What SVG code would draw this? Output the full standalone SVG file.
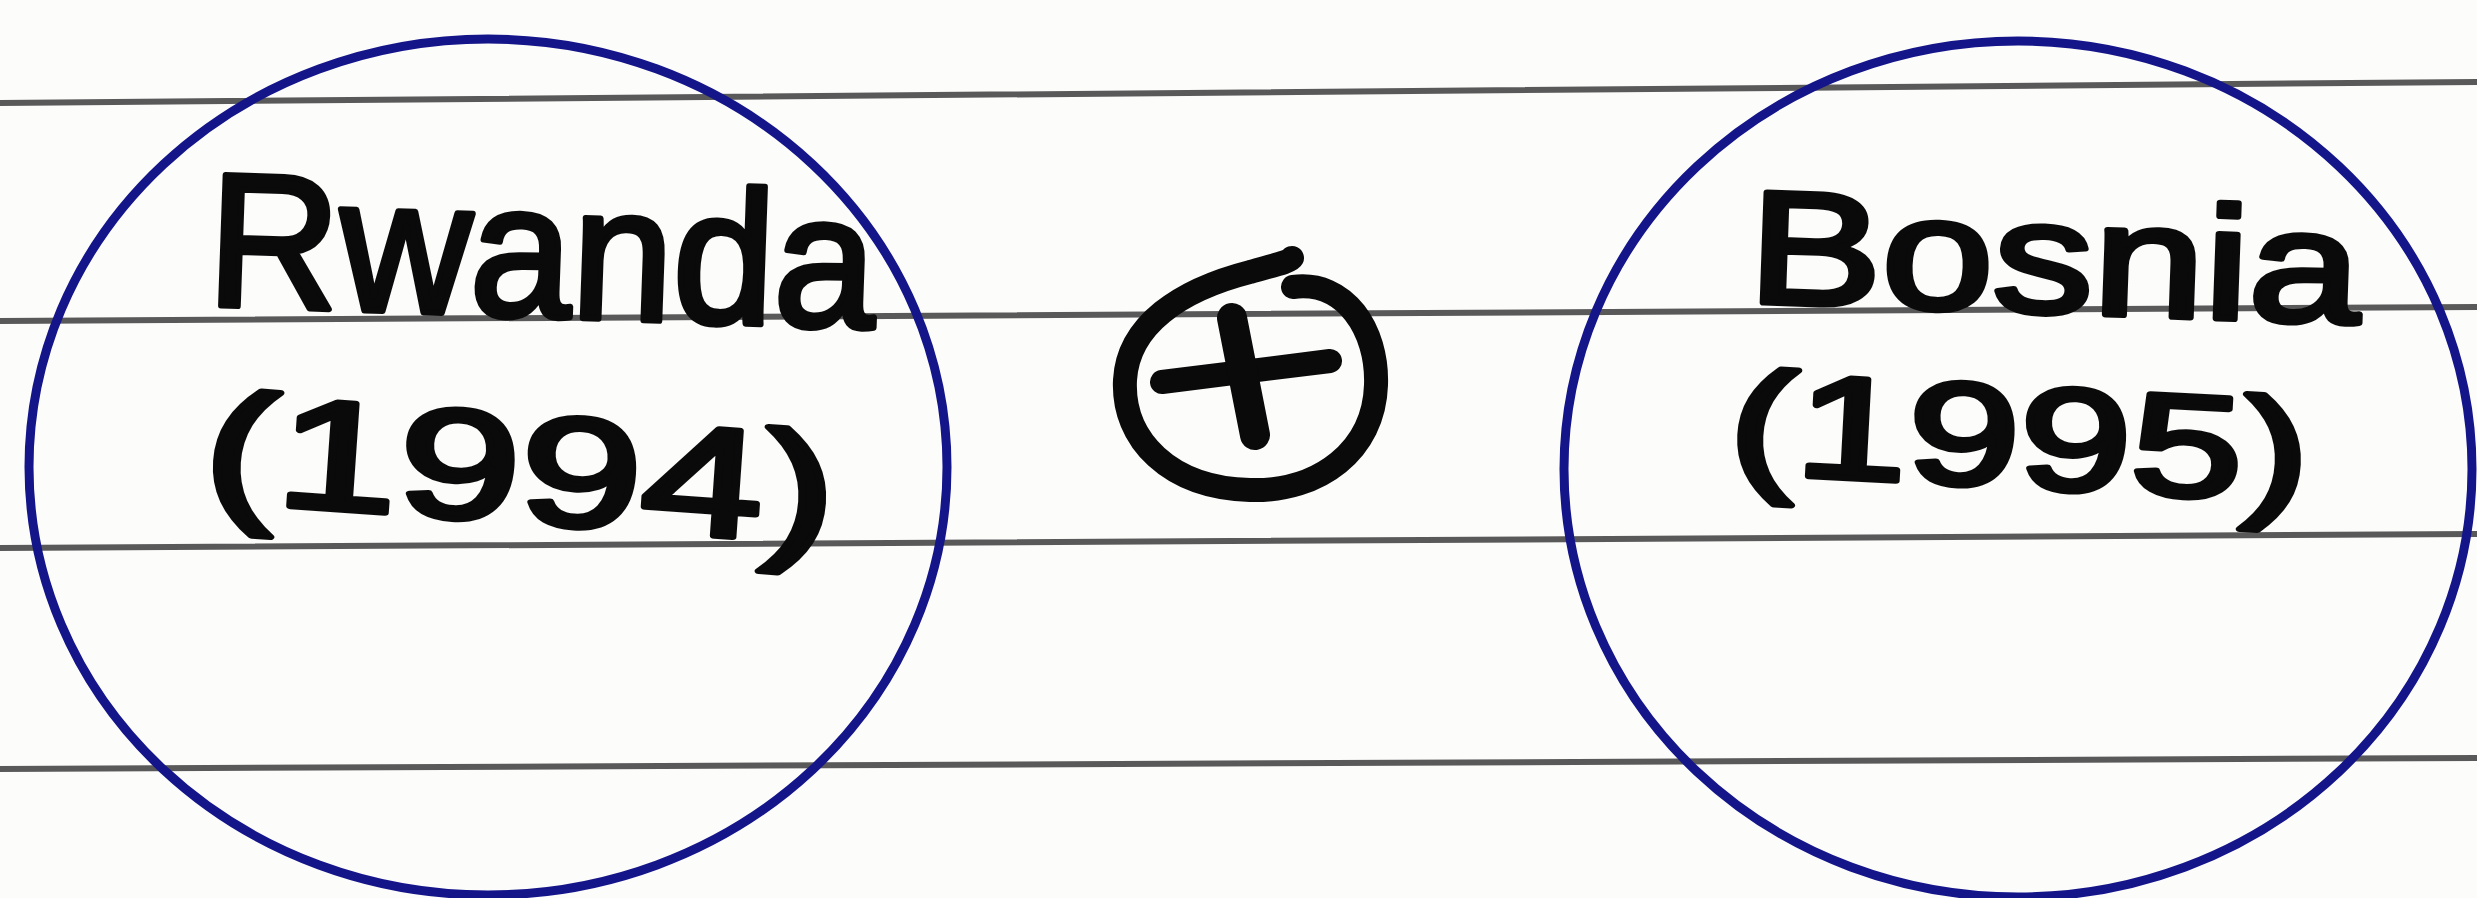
<svg xmlns="http://www.w3.org/2000/svg" width="2477" height="898" viewBox="0 0 2477 898">
  <style>
    .rule { stroke: #3c3c3c; stroke-width: 6; fill: none; stroke-linecap: round; opacity: 0.85; }
    .ring { fill: none; stroke: #15158a; stroke-width: 9; }
    .hand { font-family: "Liberation Sans", "DejaVu Sans", sans-serif; fill: #0a0a0a; stroke: #0a0a0a; stroke-width: 6; stroke-linejoin: round; }
    .ink { fill: none; stroke: #0a0a0a; stroke-linecap: round; stroke-linejoin: round; }
  </style>
  <rect width="2477" height="898" fill="#fcfcfb"/>
  <g id="ruled-lines">
    <path class="rule" d="M0 103 L2477 82"/>
    <path class="rule" d="M0 321 L2477 307"/>
    <path class="rule" d="M0 548 L2477 534"/>
    <path class="rule" d="M0 769 L2477 758"/>
  </g>
  <g id="connectors"></g>
  <g id="node-rwanda">
    <ellipse class="ring" cx="488" cy="467" rx="459" ry="428"/>
    <text class="hand" transform="rotate(2 206 305)" x="206" y="305" font-size="190" textLength="668" lengthAdjust="spacingAndGlyphs">Rwanda</text>
    <text class="hand" transform="rotate(4 201 500)" x="201" y="500" font-size="155" textLength="633" lengthAdjust="spacingAndGlyphs">(1994)</text>
  </g>
  <g id="node-plus">
    <path class="ink" stroke-width="24" d="M1293 287 C1345 280 1378 330 1376 385 C1374 450 1320 492 1250 490 C1170 488 1122 440 1125 380 C1128 325 1180 290 1250 272 C1270 266 1290 262 1292 258"/>
    <path class="ink" stroke-width="24" d="M1162 382 L1330 361"/>
    <path class="ink" stroke-width="30" d="M1232 318 L1255 435"/>
  </g>
  <g id="node-bosnia">
    <ellipse class="ring" cx="2018" cy="469" rx="454" ry="428"/>
    <text class="hand" transform="rotate(2 1747 302)" x="1747" y="302" font-size="160" textLength="612" lengthAdjust="spacingAndGlyphs">Bosnia</text>
    <text class="hand" transform="rotate(3 1727 472)" x="1727" y="472" font-size="145" textLength="581" lengthAdjust="spacingAndGlyphs">(1995)</text>
  </g>
</svg>
